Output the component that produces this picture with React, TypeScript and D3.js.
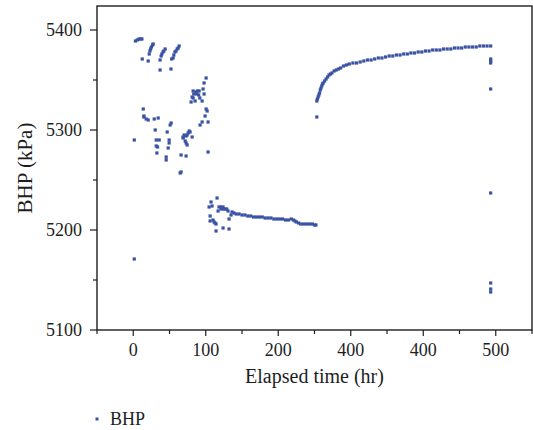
import React from "react";
import * as d3 from "d3";

// elapsed time (hr) / bottom-hole pressure (kPa)
const earlyTests: [number, number][] = [
  [3, 5389], [5.5, 5390], [8, 5391], [10, 5391], [12, 5391],
  [22, 5376], [23, 5379], [24, 5381], [25, 5383], [26.7, 5385], [27.5, 5386],
  [38.5, 5374], [39.5, 5376], [41, 5378], [42.3, 5379], [44, 5381],
  [53, 5371], [55, 5372], [56, 5375], [57.5, 5378], [59, 5379], [60.5, 5381], [62, 5382], [63.3, 5384],
  [12.4, 5371], [20.6, 5369], [37, 5370], [37, 5360], [52, 5361],
  [13.8, 5321], [14.7, 5314], [14.7, 5313], [17.9, 5311], [20.6, 5310], [28.9, 5311], [34.4, 5312],
  [52.3, 5307], [50.9, 5305], [30.3, 5300], [46.8, 5298], [1.4, 5290], [31.7, 5290], [35.8, 5290],
  [49.5, 5290], [49.5, 5287], [31.7, 5284], [33.5, 5283], [48.2, 5282], [32.6, 5277],
  [45.4, 5273], [45.4, 5270], [66, 5275], [72.9, 5274], [64.7, 5257], [66, 5258],
  [68.8, 5293], [68.8, 5292], [70.2, 5295], [72.9, 5294], [74.3, 5295], [75.7, 5297], [77.1, 5299],
  [78.4, 5298], [81.2, 5293], [71.6, 5289], [72.9, 5287], [74.3, 5285],
  [100.5, 5352], [97.7, 5347], [96.3, 5341], [97.7, 5336], [82.6, 5339], [86.3, 5338], [88.6, 5339],
  [90.8, 5339], [83.5, 5336], [87.5, 5336], [90.2, 5335], [81.2, 5333], [82.6, 5332], [91.8, 5332],
  [85.3, 5329], [95, 5329], [79.8, 5328], [100.5, 5321], [101.9, 5319], [99.1, 5314], [95, 5308],
  [103.2, 5308], [92.2, 5305], [103.2, 5278], [1.4, 5171],
];

const recovery: [number, number][] = [
  [104.6, 5223], [107.3, 5228], [108.7, 5224], [115.6, 5232], [106, 5214], [106, 5209],
  [110, 5210], [111.5, 5208], [112.8, 5207], [114.2, 5206], [114.2, 5199], [123.9, 5202],
  [132.1, 5201], [132.1, 5211], [117, 5219], [118.3, 5223], [121, 5223], [123.9, 5223],
  [121, 5221], [124, 5221], [126.5, 5221], [129, 5221], [130.7, 5219], [134.9, 5215],
  [136.2, 5218], [139, 5217],
  [142, 5216], [146, 5216], [150, 5215], [154, 5215], [158, 5214], [162, 5214], [166, 5213],
  [170, 5213], [174, 5213], [178, 5213], [182, 5212], [186, 5212], [190, 5212], [194, 5211],
  [198, 5211], [202, 5211], [206, 5211], [210, 5210], [214, 5210], [218, 5211], [221, 5210],
  [223, 5209], [225, 5208], [228, 5207], [231, 5206], [235, 5206], [239, 5206], [243, 5206],
  [247, 5206], [250, 5205], [252, 5205],
];

const buildUp: [number, number][] = [
  [253.2, 5313], [253.2, 5329], [254, 5331], [255, 5333], [256, 5335], [257, 5337], [258, 5340],
  [259, 5342], [260, 5344], [261, 5346], [262, 5347], [264, 5349], [266, 5351], [268, 5353],
  [270, 5355], [272, 5356], [274, 5357], [277, 5359], [280, 5360], [283, 5361], [286, 5362],
  [290, 5364], [294, 5365], [298, 5366], [303, 5367], [308, 5367], [313, 5368], [318, 5369],
  [323, 5370], [328, 5370], [333, 5371], [338, 5372], [343, 5372], [348, 5373], [353, 5374],
  [358, 5374], [363, 5375], [368, 5375], [373, 5376], [378, 5376], [383, 5377], [388, 5377],
  [393, 5378], [398, 5378], [403, 5379], [408, 5379], [413, 5380], [418, 5380], [423, 5380],
  [428, 5381], [433, 5381], [438, 5381], [443, 5382], [448, 5382], [453, 5382], [458, 5383],
  [463, 5383], [468, 5383], [473, 5383], [478, 5384], [483, 5384], [488, 5384], [493, 5384],
  [493, 5371], [493, 5369], [493, 5367], [493, 5341], [493, 5237], [493, 5147], [493, 5141], [493, 5138],
];

const xTicks = [0, 100, 200, 300, 400, 500];
const xTickLabels = ["0", "100", "200", "400", "400", "500"];
const xMinor = [-50, 50, 150, 250, 350, 450, 550];
const yTicks = [5100, 5200, 5300, 5400];
const yMinor = [5150, 5250, 5350];

const W = 533;
const H = 430;
const left = 97;
const right = 532;
const top = 6;
const bottom = 330;
const blue = "#3a53a4";
const ink = "#1e1e1e";
const font = "'Liberation Serif', 'Times New Roman', serif";

export default function App() {
  const x = d3.scaleLinear().domain([-50, 550]).range([left, right]);
  const y = d3.scaleLinear().domain([5100, 5424]).range([bottom, top]);
  const all = [...earlyTests, ...recovery, ...buildUp];
  const s = 3.2;

  return (
    <div style={{ position: "fixed", left: 0, top: 0 }}>
      <svg width={W} height={H} style={{ display: "block", background: "#fff" }}>
        <rect x={left} y={top} width={right - left} height={bottom - top} fill="none" stroke={ink} strokeWidth={1.4} />
        {yTicks.map((t) => (
          <g key={"y" + t}>
            <line x1={left - 7} x2={left} y1={y(t)} y2={y(t)} stroke={ink} strokeWidth={1.2} />
            <text x={left - 15} y={y(t)} dy="0.35em" textAnchor="end" fontSize={18} fontFamily={font} fill={ink}>
              {t}
            </text>
          </g>
        ))}
        {yMinor.map((t) => (
          <line key={"ym" + t} x1={left - 4} x2={left} y1={y(t)} y2={y(t)} stroke={ink} strokeWidth={1.2} />
        ))}
        {xTicks.map((t, i) => (
          <g key={"x" + t}>
            <line x1={x(t)} x2={x(t)} y1={bottom} y2={bottom + 6} stroke={ink} strokeWidth={1.2} />
            <text x={x(t)} y={bottom + 26} textAnchor="middle" fontSize={18} fontFamily={font} fill={ink}>
              {xTickLabels[i]}
            </text>
          </g>
        ))}
        {xMinor.map((t) => (
          <line key={"xm" + t} x1={x(t)} x2={x(t)} y1={bottom} y2={bottom + 4} stroke={ink} strokeWidth={1.2} />
        ))}
        <text x={(left + right) / 2} y={383} textAnchor="middle" fontSize={20} fontFamily={font} fill={ink}>
          Elapsed time (hr)
        </text>
        <text transform={`translate(32, ${(top + bottom) / 2}) rotate(-90)`} textAnchor="middle" fontSize={21} fontFamily={font} fill={ink}>
          BHP (kPa)
        </text>
        {all.map((d, i) => (
          <rect key={i} x={x(d[0]) - s / 2} y={y(d[1]) - s / 2} width={s} height={s} fill={blue} />
        ))}
        <rect x={95.5} y={417.5} width={3} height={3} fill={blue} />
        <text x={110} y={425} fontSize={18} fontFamily={font} fill={ink}>
          BHP
        </text>
      </svg>
    </div>
  );
}
